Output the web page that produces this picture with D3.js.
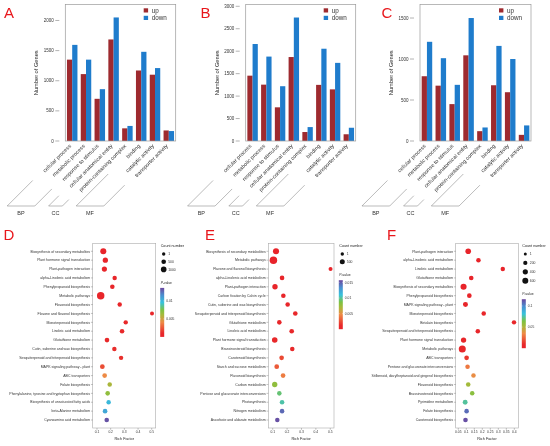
<!DOCTYPE html>
<html>
<head>
<meta charset="utf-8">
<script src="https://cdn.jsdelivr.net/npm/d3@7"></script>
<style>
  body { margin: 0; background: #fff; }
  svg { display: block; font-family: "Liberation Sans", Arial, sans-serif; opacity: 0.999; will-change: opacity; }
</style>
</head>
<body>
<svg id="fig" width="550" height="446"></svg>
<script>
// GO categories (A-C)
const goCategories = ['cellular process', 'metabolic process', 'response to stimulus',
  'cellular anatomical entity', 'protein-containing complex',
  'binding', 'catalytic activity', 'transporter activity'];
const goGroups = ['BP', 'CC', 'MF'];
const goGroupOf = ['BP', 'BP', 'BP', 'CC', 'CC', 'MF', 'MF', 'MF'];

const upA = [1350, 1110, 700, 1685, 210, 1170, 1100, 175];
const downA = [1595, 1350, 860, 2050, 250, 1480, 1210, 165];
const upB = [1455, 1255, 750, 1870, 200, 1250, 1150, 150];
const downB = [2160, 1880, 1220, 2750, 310, 2055, 1740, 295];
const upC = [790, 675, 450, 1045, 120, 680, 595, 75];
const downC = [1210, 1010, 685, 1500, 165, 1160, 1000, 190];
const yTicksA = [0, 500, 1000, 1500, 2000];
const yTicksB = [0, 500, 1000, 1500, 2000, 2500, 3000];
const yTicksC = [0, 500, 1000, 1500];

// KEGG enrichment (D-F)
const pathwaysD = ['Biosynthesis of secondary metabolites', 'Plant hormone signal transduction',
  'Plant-pathogen interaction', 'alpha-Linolenic acid metabolism', 'Phenylpropanoid biosynthesis',
  'Metabolic pathways', 'Flavonoid biosynthesis', 'Flavone and flavonol biosynthesis',
  'Monoterpenoid biosynthesis', 'Linoleic acid metabolism', 'Glutathione metabolism',
  'Cutin, suberine and wax biosynthesis', 'Sesquiterpenoid and triterpenoid biosynthesis',
  'MAPK signaling pathway - plant', 'ABC transporters', 'Folate biosynthesis',
  'Phenylalanine, tyrosine and tryptophan biosynthesis', 'Biosynthesis of unsaturated fatty acids',
  'beta-Alanine metabolism', 'Cyanoamino acid metabolism'];
const richD = [0.146, 0.161, 0.154, 0.229, 0.212, 0.127, 0.266, 0.502, 0.310, 0.283,
  0.173, 0.227, 0.276, 0.139, 0.156, 0.193, 0.178, 0.185, 0.159, 0.171];
const countD = [1250, 800, 780, 420, 480, 2200, 400, 220, 380, 460,
  520, 420, 400, 560, 520, 420, 480, 420, 500, 480];
const pD = [0.0002, 0.0003, 0.0004, 0.0005, 0.0006, 0.0003, 0.0007, 0.0008, 0.0009, 0.0010,
  0.0011, 0.0012, 0.0013, 0.0022, 0.0041, 0.0060, 0.0068, 0.0099, 0.0106, 0.0133];

const pathwaysE = ['Biosynthesis of secondary metabolites', 'Metabolic pathways',
  'Flavone and flavonol biosynthesis', 'alpha-Linolenic acid metabolism', 'Plant-pathogen interaction',
  'Carbon fixation by Calvin cycle', 'Cutin, suberine and wax biosynthesis',
  'Sesquiterpenoid and triterpenoid biosynthesis', 'Glutathione metabolism', 'Linoleic acid metabolism',
  'Plant hormone signal transduction', 'Brassinosteroid biosynthesis', 'Carotenoid biosynthesis',
  'Starch and sucrose metabolism', 'Flavonoid biosynthesis', 'Carbon metabolism',
  'Pentose and glucuronate interconversions', 'Photosynthesis', 'Nitrogen metabolism',
  'Ascorbate and aldarate metabolism'];
const richE = [0.123, 0.105, 0.502, 0.165, 0.116, 0.174, 0.204, 0.257, 0.146, 0.232,
  0.114, 0.236, 0.162, 0.128, 0.172, 0.114, 0.146, 0.165, 0.165, 0.132];
const countE = [950, 1650, 170, 380, 650, 360, 340, 360, 360, 380,
  720, 340, 380, 400, 380, 620, 340, 360, 330, 320];
const pE = [0.0002, 0.0001, 0.0003, 0.0004, 0.0005, 0.0006, 0.0007, 0.0008, 0.0009, 0.0010,
  0.0011, 0.0012, 0.0024, 0.0030, 0.0042, 0.0079, 0.0094, 0.0102, 0.0146, 0.0154];

const pathwaysF = ['Plant-pathogen interaction', 'alpha-Linolenic acid metabolism',
  'Linoleic acid metabolism', 'Glutathione metabolism', 'Biosynthesis of secondary metabolites',
  'Phenylpropanoid biosynthesis', 'MAPK signaling pathway - plant', 'Monoterpenoid biosynthesis',
  'Betalain biosynthesis', 'Sesquiterpenoid and triterpenoid biosynthesis',
  'Plant hormone signal transduction', 'Metabolic pathways', 'ABC transporters',
  'Pentose and glucuronate interconversions', 'Stilbenoid, diarylheptanoid and gingerol biosynthesis',
  'Flavonoid biosynthesis', 'Brassinosteroid biosynthesis', 'Pyrimidine metabolism',
  'Folate biosynthesis', 'Carotenoid biosynthesis'];
const richF = [0.112, 0.176, 0.328, 0.131, 0.083, 0.119, 0.095, 0.209, 0.398, 0.172,
  0.083, 0.075, 0.102, 0.108, 0.145, 0.112, 0.137, 0.093, 0.102, 0.095];
const countF = [500, 260, 240, 270, 620, 280, 350, 250, 230, 260,
  430, 900, 290, 260, 250, 260, 250, 330, 260, 280];
const pF = [0.001, 0.001, 0.001, 0.002, 0.002, 0.003, 0.003, 0.004, 0.004, 0.005,
  0.005, 0.004, 0.013, 0.030, 0.036, 0.053, 0.060, 0.074, 0.107, 0.114];

const richTicksDE = [0.1, 0.2, 0.3, 0.4, 0.5];
const richTicksF = [0.05, 0.1, 0.15, 0.2, 0.25, 0.3, 0.35, 0.4];

const svg = d3.select('#fig');
const barColors = { up: '#9e2a2f', down: '#1f7ccc' };
const rampT = [0, 0.08, 0.3, 0.45, 0.55, 0.7, 0.85, 1];
const rampColors = ['#e8232a', '#e8292a', '#ee8a45', '#a6b93a', '#7cc242', '#36c2dc', '#4a8fd0', '#6b479e'];

const BAR_TOP = 4.5, BAR_BOTTOM = 141;
const DOT_TOP = 243.3, DOT_BOTTOM = 428;

function barPanel(p) {
  const g = svg.append('g');
  const x = d3.scaleBand().domain(goCategories).range([p.left, p.right])
    .paddingInner(0.24).paddingOuter(0.12);
  const xs = d3.scaleBand().domain(['up', 'down']).range([0, x.bandwidth()]);
  const y = d3.scaleLinear().domain([0, p.ymax]).range([BAR_BOTTOM, BAR_TOP]);
  const rows = goCategories.map((c, i) => ({ cat: c, up: p.up[i], down: p.down[i] }));

  g.selectAll('g.cat').data(rows).join('g').attr('class', 'cat')
    .attr('transform', d => `translate(${x(d.cat)},0)`)
    .selectAll('rect').data(d => ['up', 'down'].map(k => ({ k, v: d[k] }))).join('rect')
    .attr('x', d => xs(d.k)).attr('y', d => y(d.v))
    .attr('width', xs.bandwidth()).attr('height', d => y(0) - y(d.v))
    .attr('fill', d => barColors[d.k]);

  g.append('rect').attr('x', p.left).attr('y', BAR_TOP)
    .attr('width', p.right - p.left).attr('height', BAR_BOTTOM - BAR_TOP)
    .attr('fill', 'none').attr('stroke', '#9a9a9a').attr('stroke-width', 0.7);

  // y ticks
  p.ticks.forEach(t => {
    g.append('line').attr('x1', p.left - 10).attr('x2', p.left - 6)
      .attr('y1', y(t)).attr('y2', y(t)).attr('stroke', '#666').attr('stroke-width', 0.5);
    g.append('text').attr('x', p.left - 11.5).attr('y', y(t)).attr('dy', '0.35em')
      .attr('text-anchor', 'end').attr('font-size', '4.5px').attr('fill', '#333').text(t);
  });

  g.append('text').attr('transform', `translate(${p.left - 27},${(BAR_TOP + BAR_BOTTOM) / 2}) rotate(-90)`)
    .attr('text-anchor', 'middle').attr('font-size', '5.7px').attr('fill', '#222')
    .text('Number of Genes');

  // category labels
  const cx = c => x(c) + x.bandwidth() / 2;
  const labels = g.selectAll('text.xl').data(goCategories).join('text').attr('class', 'xl')
    .attr('transform', d => `translate(${cx(d) - 2},${BAR_BOTTOM + 4}) rotate(-45)`)
    .attr('text-anchor', 'end').attr('dy', '0.35em')
    .attr('font-size', '5.4px').attr('fill', '#333').text(d => d);
  const lens = labels.nodes().map(n => n.getComputedTextLength());

  // group brackets
  const yb = 206;
  const drop = yb - BAR_BOTTOM;
  goGroups.forEach(gr => {
    const idx = goCategories.map((c, i) => i).filter(i => goGroupOf[i] === gr);
    const iF = idx[0], iL = idx[idx.length - 1];
    const bl = cx(goCategories[iF]) - drop, br = cx(goCategories[iL]) - drop;
    const topFor = i => Math.min(yb - 3, Math.max(BAR_BOTTOM + 13 + lens[i] / Math.SQRT2, yb - 32));
    const tL = topFor(iF), tR = topFor(iL);
    g.append('path')
      .attr('d', `M${bl + (yb - tL)},${tL}L${bl},${yb}L${br},${yb}L${br + (yb - tR)},${tR}`)
      .attr('fill', 'none').attr('stroke', '#777').attr('stroke-width', 0.5);
    g.append('text').attr('x', (bl + br) / 2).attr('y', 215).attr('text-anchor', 'middle')
      .attr('font-size', '5.5px').attr('fill', '#333').text(gr);
  });

  // legend
  ['up', 'down'].forEach((k, i) => {
    g.append('rect').attr('x', p.right - 32).attr('y', BAR_TOP + 3.8 + i * 7.5)
      .attr('width', 4.4).attr('height', 4.2).attr('fill', barColors[k]);
    g.append('text').attr('x', p.right - 24).attr('y', BAR_TOP + 8 + i * 7.5)
      .attr('font-size', '6.3px').attr('fill', '#333').text(k);
  });

  svg.append('text').attr('x', p.letterX).attr('y', 18).attr('font-size', '15px')
    .attr('fill', '#e8161b').text(p.letter);
}

function dotPanel(p) {
  const g = svg.append('g');
  const x = d3.scaleLinear().domain(p.xDomain).range([p.left, p.right]);
  const y = d3.scalePoint().domain(p.pathways).range([DOT_TOP, DOT_BOTTOM]).padding(0.9);
  const r = d3.scaleRadial().domain([1, p.sizeRef]).range([p.rMin, p.rRef]);
  const color = d3.scaleLinear().domain(rampT.map(t => t * p.pMax)).range(rampColors).clamp(true);

  g.append('rect').attr('x', p.left).attr('y', DOT_TOP)
    .attr('width', p.right - p.left).attr('height', DOT_BOTTOM - DOT_TOP)
    .attr('fill', 'none').attr('stroke', '#aaa').attr('stroke-width', 0.6);

  p.pathways.forEach(name => {
    g.append('line').attr('x1', p.left - 1.8).attr('x2', p.left)
      .attr('y1', y(name)).attr('y2', y(name)).attr('stroke', '#555').attr('stroke-width', 0.35);
    g.append('text').attr('x', p.left - 2.6).attr('y', y(name)).attr('dy', '0.35em')
      .attr('text-anchor', 'end').attr('font-size', '3.5px').attr('fill', '#333').text(name);
  });

  p.xTicks.forEach(t => {
    g.append('line').attr('x1', x(t)).attr('x2', x(t))
      .attr('y1', DOT_BOTTOM).attr('y2', DOT_BOTTOM + 1.8).attr('stroke', '#555').attr('stroke-width', 0.35);
    g.append('text').attr('x', x(t)).attr('y', DOT_BOTTOM + 5.4).attr('text-anchor', 'middle')
      .attr('font-size', '3.3px').attr('fill', '#333').text(t);
  });
  g.append('text').attr('x', (p.left + p.right) / 2).attr('y', DOT_BOTTOM + 12.4)
    .attr('text-anchor', 'middle').attr('font-size', '3.8px').attr('fill', '#222').text('Rich Factor');

  const rows = p.pathways.map((n, i) => ({ n, rf: p.rich[i], c: p.counts[i], pv: p.pvals[i] }));
  g.selectAll('circle.pt').data(rows).join('circle').attr('class', 'pt')
    .attr('cx', d => x(d.rf)).attr('cy', d => y(d.n)).attr('r', d => r(d.c))
    .attr('fill', d => color(d.pv));

  // count legend
  const lx = p.legX;
  g.append('text').attr('x', lx).attr('y', 246.8).attr('font-size', '3.7px').attr('fill', '#222')
    .text('Count number');
  p.legCounts.forEach((c, i) => {
    const yy = 254 + i * p.legStep;
    g.append('circle').attr('cx', lx + 3).attr('cy', yy).attr('r', r(c)).attr('fill', '#111');
    g.append('text').attr('x', lx + 7.5).attr('y', yy).attr('dy', '0.35em')
      .attr('font-size', '3.4px').attr('fill', '#333').text(c);
  });

  // p-value colour bar
  const last = 254 + (p.legCounts.length - 1) * p.legStep;
  const cbTop = last + 18.5, cbBot = cbTop + 49;
  const yc = d3.scaleLinear().domain([0, p.pMax]).range([cbBot, cbTop]);
  const gid = 'grad' + p.letter;
  const grad = svg.append('defs').append('linearGradient').attr('id', gid)
    .attr('x1', 0).attr('y1', 1).attr('x2', 0).attr('y2', 0);
  rampT.forEach((t, i) => grad.append('stop').attr('offset', t).attr('stop-color', rampColors[i]));
  const title = g.append('text').attr('x', lx).attr('y', cbTop - 4.2).attr('font-size', '3.3px').attr('fill', '#222');
  title.append('tspan').attr('font-style', 'italic').text('P');
  title.append('tspan').text('-value');
  g.append('rect').attr('x', lx - 0.5).attr('y', cbTop).attr('width', 4).attr('height', cbBot - cbTop)
    .attr('fill', `url(#${gid})`);
  p.pTicks.forEach(t => {
    [lx - 0.5, lx + 2.7].forEach(xx => g.append('line').attr('x1', xx).attr('x2', xx + 0.8)
      .attr('y1', yc(t)).attr('y2', yc(t)).attr('stroke', '#fff').attr('stroke-width', 0.4));
    g.append('text').attr('x', lx + 5.5).attr('y', yc(t)).attr('dy', '0.35em')
      .attr('font-size', '3.3px').attr('fill', '#333').text(t);
  });

  svg.append('text').attr('x', p.letterX).attr('y', 239.5).attr('font-size', '15px')
    .attr('fill', '#e8161b').text(p.letter);
}

barPanel({ letter: 'A', letterX: 4, left: 65.3, right: 175.7, ymax: 2265, up: upA, down: downA, ticks: yTicksA });
barPanel({ letter: 'B', letterX: 200.5, left: 245.7, right: 355.7, ymax: 3040, up: upB, down: downB, ticks: yTicksB });
barPanel({ letter: 'C', letterX: 381.5, left: 420, right: 531, ymax: 1665, up: upC, down: downC, ticks: yTicksC });

dotPanel({ letter: 'D', letterX: 3.5, left: 92.7, right: 155.7, xDomain: [0.0686, 0.529], xTicks: richTicksDE,
  pathways: pathwaysD, rich: richD, counts: countD, pvals: pD,
  sizeRef: 1000, rMin: 1.7, rRef: 2.8, legCounts: [1, 500, 1000], legStep: 7.7, legX: 160.7,
  pMax: 0.0136, pTicks: [0.005, 0.01] });
dotPanel({ letter: 'E', letterX: 205, left: 268.3, right: 334, xDomain: [0.0694, 0.526], xTicks: richTicksDE,
  pathways: pathwaysE, rich: richE, counts: countE, pvals: pE,
  sizeRef: 500, rMin: 1.7, rRef: 2.5, legCounts: [1, 500], legStep: 7.7, legX: 339.3,
  pMax: 0.0157, pTicks: [0.005, 0.01, 0.015] });
dotPanel({ letter: 'F', letterX: 387, left: 455.7, right: 518.3, xDomain: [0.0339, 0.4248], xTicks: richTicksF,
  pathways: pathwaysF, rich: richF, counts: countF, pvals: pF,
  sizeRef: 600, rMin: 1.5, rRef: 3.0, legCounts: [1, 200, 400, 600], legStep: 8.9, legX: 522.3,
  pMax: 0.116, pTicks: [0.05, 0.1] });
</script>
</body>
</html>
